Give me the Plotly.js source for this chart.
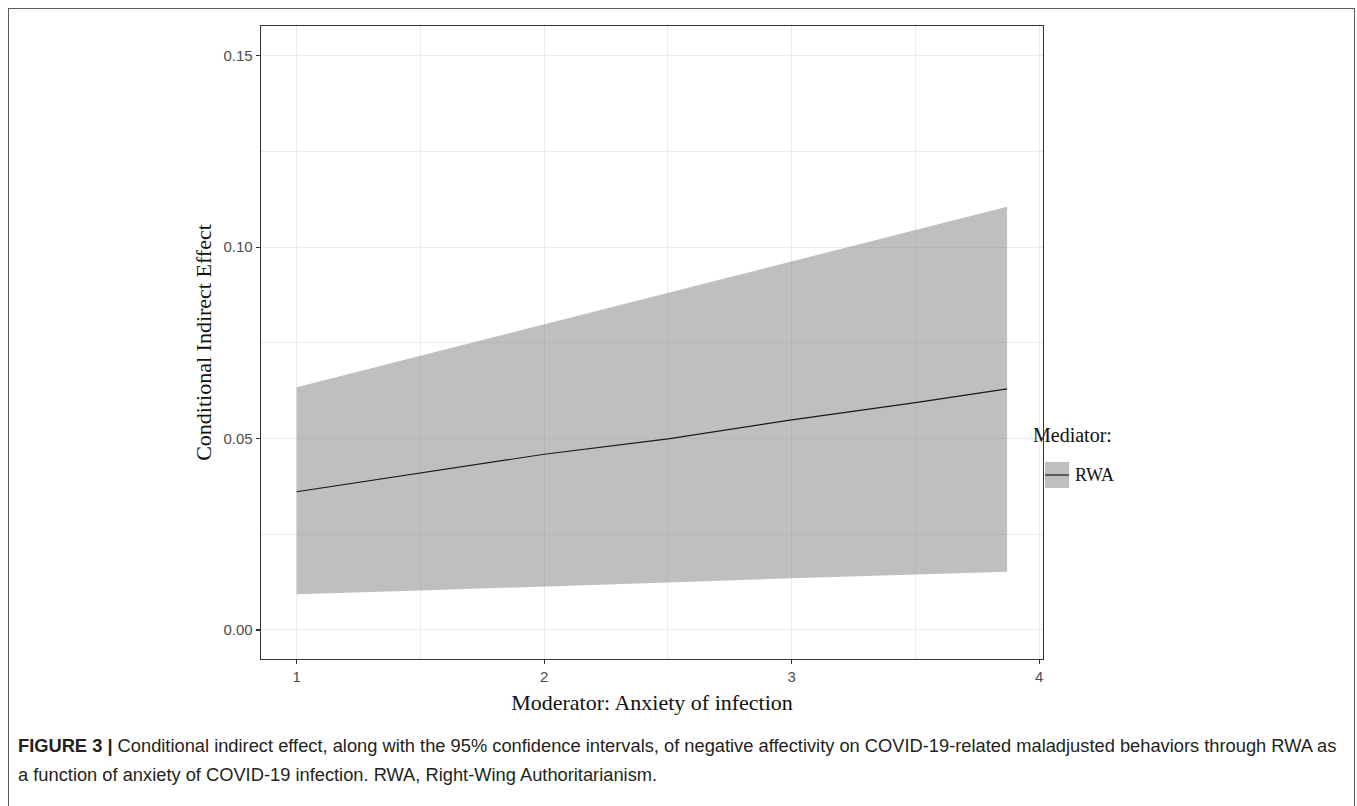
<!DOCTYPE html>
<html>
<head>
<meta charset="utf-8">
<script src="https://cdn.plot.ly/plotly-3.0.1.min.js"></script>
<style>
  html, body { margin: 0; padding: 0; background: #fff; }
  #wrap { position: relative; width: 1357px; height: 806px; overflow: hidden; }
  #frame { position: absolute; left: 8px; top: 8px; width: 1345px; height: 820px; border: 1.5px solid #5a5a5a; pointer-events: none; }
  #chart { position: absolute; left: 0; top: 0; width: 1357px; height: 806px; }
</style>
</head>
<body>
<div id="wrap">
  <div id="chart"></div>
  <div id="frame"></div>
</div>
<script>
// Moderator values (Anxiety of infection)
const moderator = [1, 1.5, 2, 2.5, 3, 3.5, 3.87];
// Conditional indirect effect (point estimate)
const effect = [0.0361, 0.0410, 0.0459, 0.0499, 0.0549, 0.0594, 0.0630];
// 95% CI bounds
const ciUpper = [0.0634, 0.0716, 0.0798, 0.0882, 0.0963, 0.1046, 0.1106];
const ciLower = [0.0093, 0.0103, 0.0113, 0.0124, 0.0135, 0.0145, 0.0152];
const xTicks = [1, 2, 3, 4];
const yTicks = [0, 0.05, 0.10, 0.15];
const yTickText = ['0.00', '0.05', '0.10', '0.15'];
const mediatorName = 'RWA';

const L = 261, R = 1043, T = 26, B = 659, W = 1357, H = 806;
const px = x => (x - L) / (R - L);
const py = y => (B - y) / (B - T);

const ribbon = {
  x: moderator.concat(moderator.slice().reverse()),
  y: ciUpper.concat(ciLower.slice().reverse()),
  type: 'scatter', mode: 'lines', fill: 'toself',
  fillcolor: 'rgba(128,128,128,0.5)', line: {width: 0},
  hoverinfo: 'skip', showlegend: false
};
const line = {
  x: moderator, y: effect, type: 'scatter', mode: 'lines',
  line: {color: '#1a1a1a', width: 1.2}, showlegend: false, name: mediatorName
};

const serif = 'Liberation Serif, Times New Roman, serif';
const sans = 'Liberation Sans, Arial, sans-serif';
const capFont = 'Liberation Sans, Arial, sans-serif';

const layout = {
  width: W, height: H,
  margin: {l: L, r: W - R, t: T, b: H - B, pad: 0},
  paper_bgcolor: 'rgba(0,0,0,0)', plot_bgcolor: '#fff',
  showlegend: false,
  xaxis: {
    range: [0.856, 4.015], tickvals: xTicks, ticktext: xTicks.map(String),
    showgrid: true, gridcolor: '#ebebeb', gridwidth: 1,
    minor: {dtick: 0.5, tick0: 0.5, showgrid: true, gridcolor: '#ebebeb', gridwidth: 1},
    zeroline: false, showline: true, mirror: true, linecolor: '#333', linewidth: 1.3,
    ticks: 'outside', ticklen: 4, tickcolor: '#333', tickwidth: 1.2,
    tickfont: {family: sans, size: 15, color: '#4d4d4d'},
    title: {text: 'Moderator: Anxiety of infection', font: {family: serif, size: 22, color: '#111'}, standoff: 10}
  },
  yaxis: {
    range: [-0.0076, 0.1578], tickvals: yTicks, ticktext: yTickText,
    showgrid: true, gridcolor: '#ebebeb', gridwidth: 1,
    minor: {dtick: 0.025, tick0: 0.025, showgrid: true, gridcolor: '#ebebeb', gridwidth: 1},
    zeroline: false, showline: true, mirror: true, linecolor: '#333', linewidth: 1.3,
    ticks: 'outside', ticklen: 4, tickcolor: '#333', tickwidth: 1.2,
    tickfont: {family: sans, size: 15, color: '#4d4d4d'},
    title: {text: 'Conditional Indirect Effect', font: {family: serif, size: 22, color: '#111'}, standoff: 5}
  },
  shapes: [
    {type: 'rect', xref: 'paper', yref: 'paper', x0: px(1045), x1: px(1069), y0: py(488), y1: py(462),
     fillcolor: 'rgba(128,128,128,0.5)', line: {width: 0}},
    {type: 'line', xref: 'paper', yref: 'paper', x0: px(1045), x1: px(1069), y0: py(475), y1: py(475),
     line: {color: '#1a1a1a', width: 1.2}}
  ],
  annotations: [
    {text: 'Mediator:', xref: 'paper', yref: 'paper', x: px(1031), y: py(435), xanchor: 'left', yanchor: 'middle',
     showarrow: false, font: {family: serif, size: 20, color: '#111'}},
    {text: mediatorName, xref: 'paper', yref: 'paper', x: px(1073), y: py(475), xanchor: 'left', yanchor: 'middle',
     showarrow: false, font: {family: serif, size: 18, color: '#111'}},
    {text: '<b>FIGURE 3 |</b> Conditional indirect effect, along with the 95% confidence intervals, of negative affectivity on COVID-19-related maladjusted behaviors through RWA as',
     xref: 'paper', yref: 'paper', x: px(16), y: py(745), xanchor: 'left', yanchor: 'middle', align: 'left',
     showarrow: false, font: {family: capFont, size: 18.3, color: '#231f20'}},
    {text: 'a function of anxiety of COVID-19 infection. RWA, Right-Wing Authoritarianism.',
     xref: 'paper', yref: 'paper', x: px(16), y: py(774), xanchor: 'left', yanchor: 'middle', align: 'left',
     showarrow: false, font: {family: capFont, size: 18.3, color: '#231f20'}}
  ]
};

Plotly.newPlot('chart', [ribbon, line], layout, {displayModeBar: false, staticPlot: true});
</script>
</body>
</html>
